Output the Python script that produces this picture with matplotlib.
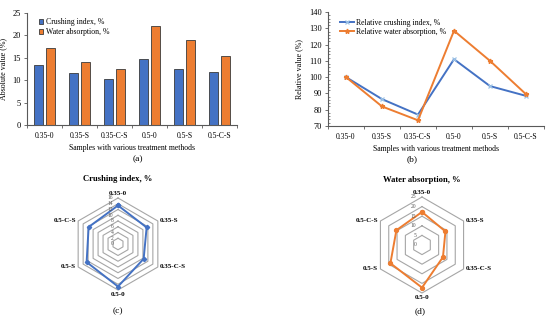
import numpy as np
import matplotlib
matplotlib.use('Agg')
import matplotlib.pyplot as plt

plt.rcParams['font.family'] = ['Liberation Serif', 'DejaVu Serif']

samples = ['0.35-0', '0.35-S', '0.35-C-S', '0.5-0', '0.5-S', '0.5-C-S']
crushing = [13.4, 11.5, 10.3, 14.8, 12.6, 11.8]
water = [17.2, 14.1, 12.6, 22.2, 19.0, 15.4]
rel_crushing = [100.0, 86.5, 77.0, 111.0, 94.5, 88.5]
rel_water = [100.0, 82.0, 73.5, 128.5, 110.0, 89.5]

crush_ticks = [0, 2, 4, 6, 8, 10, 12, 14, 16]
water_ticks = [0, 5, 10, 15, 20, 25]

BLUE = '#4472C4'
ORANGE = '#ED7D31'
W, H = 550, 322

fig = plt.figure(figsize=(5.5, 3.22), dpi=100)


def box(x0, y0, x1, y1):
    # pixel box (from top-left) -> figure fraction
    return [x0 / W, 1 - y1 / H, (x1 - x0) / W, (y1 - y0) / H]


def style_axis(ax):
    for s in ['top', 'right']:
        ax.spines[s].set_visible(False)
    for s in ['left', 'bottom']:
        ax.spines[s].set_color('#595959')
        ax.spines[s].set_linewidth(0.8)
    ax.set_xlim(-0.5, 5.5)
    ax.set_xticks(np.arange(6))
    ax.set_xticklabels(samples)
    ax.set_xticks(np.arange(-0.5, 6, 1), minor=True)
    ax.tick_params(axis='x', which='major', length=0, pad=5, labelsize=5.5)
    ax.tick_params(axis='x', which='minor', length=2.5, width=0.6, color='#595959')
    ax.tick_params(axis='y', which='major', length=2.5, width=0.6, pad=2,
                   labelsize=6, color='#595959')
    ax.set_xlabel('Samples with various treatment methods', fontsize=5.6, labelpad=3)


# (a) bar chart
ax1 = fig.add_axes(box(27, 13, 237, 125))
x = np.arange(len(samples))
bw = 0.25
ax1.bar(x - 0.17, crushing, bw, color=BLUE, edgecolor='#3a3a3a', linewidth=0.6,
        label='Crushing index, %')
ax1.bar(x + 0.17, water, bw, color=ORANGE, edgecolor='#3a3a3a', linewidth=0.6,
        label='Water absorption, %')
ax1.set_ylim(0, 25)
ax1.set_yticks(range(0, 26, 5))
ax1.set_ylabel('Absolute value (%)', fontsize=5.8, labelpad=4)
style_axis(ax1)
ax1.legend(loc='upper left', bbox_to_anchor=(0.03, 1.0), fontsize=5.6, frameon=False,
           handlelength=0.6, handleheight=0.6, handletextpad=0.3, labelspacing=0.25,
           borderaxespad=0.3)

# (b) line chart
ax2 = fig.add_axes(box(328, 12, 544, 126))
ax2.plot(x, rel_crushing, color=BLUE, lw=1.4, marker='x', ms=3.2, mec='#9DC3E6',
         mew=0.9, label='Relative crushing index, %')
ax2.plot(x, rel_water, color=ORANGE, lw=1.4, marker='*', ms=3.5, mec=ORANGE,
         label='Relative water absorption, %')
ax2.set_ylim(70, 140)
ax2.set_yticks(range(70, 141, 10))
ax2.set_yticks(range(70, 141, 2), minor=True)
ax2.tick_params(axis='y', which='minor', length=1.5, width=0.5, direction='in',
                color='#595959')
ax2.set_ylabel('Relative value (%)', fontsize=5.8, labelpad=4)
style_axis(ax2)
ax2.legend(loc='upper left', bbox_to_anchor=(0.03, 0.99), fontsize=5.6, frameon=False,
           handlelength=1.8, handletextpad=0.3, labelspacing=0.2, borderaxespad=0.3)


# (c), (d) radar charts on plain axes
def radar(cx, cy, rpx, values, ticks, color, marker, ms, title, tick_x):
    half = 72
    ax = fig.add_axes(box(cx - half, cy - half, cx + half, cy + half))
    rmax = ticks[-1]
    lim = rmax * half / rpx
    ax.set_xlim(-lim, lim)
    ax.set_ylim(-lim, lim)
    ax.axis('off')
    ang = np.deg2rad(90 - 60 * np.arange(6))
    ca, sa = np.cos(ang), np.sin(ang)
    for r in ticks[1:]:
        rx, ry = r * ca, r * sa
        ax.plot(np.append(rx, rx[0]), np.append(ry, ry[0]),
                color='#A6A6A6', lw=0.8, zorder=1)
    v = np.array(values)
    vx, vy = v * ca, v * sa
    ax.plot(np.append(vx, vx[0]), np.append(vy, vy[0]),
            color=color, lw=1.4, marker=marker, ms=ms, zorder=3)
    for r in ticks:
        ax.text(tick_x * rmax, r, str(r), fontsize=4, color='#595959',
                ha='right', va='center')
    off = rmax * 0.1
    for i, name in enumerate(samples):
        px, py = rmax * ca[i], rmax * sa[i]
        if i == 0:
            ax.text(px, py + off * 0.5, name, ha='center', va='bottom',
                    fontsize=5, fontweight='bold')
        elif i == 3:
            ax.text(px, py - off * 0.5, name, ha='center', va='top',
                    fontsize=5, fontweight='bold')
        elif i in (1, 2):
            ax.text(px + off * 0.5, py, name, ha='left', va='center',
                    fontsize=5, fontweight='bold')
        else:
            ax.text(px - off * 0.5, py, name, ha='right', va='center',
                    fontsize=5, fontweight='bold')
    fig.text(cx / W, 1 - (cy - 65) / H, title, ha='center', va='center',
             fontsize=6.2, fontweight='bold')


radar(118, 244, 46, crushing, crush_ticks, BLUE, 'D', 2.2,
      'Crushing index, %', -0.1)
radar(422, 245, 48, water, water_ticks, ORANGE, 'o', 2.8,
      'Water absorption, %', -0.12)

for lab, px, py in [('(a)', 138, 159), ('(b)', 412, 159),
                    ('(c)', 118, 311), ('(d)', 420, 311)]:
    fig.text(px / W, 1 - py / H, lab, ha='center', va='center', fontsize=6.8)

fig.savefig('out.png', dpi=100)
